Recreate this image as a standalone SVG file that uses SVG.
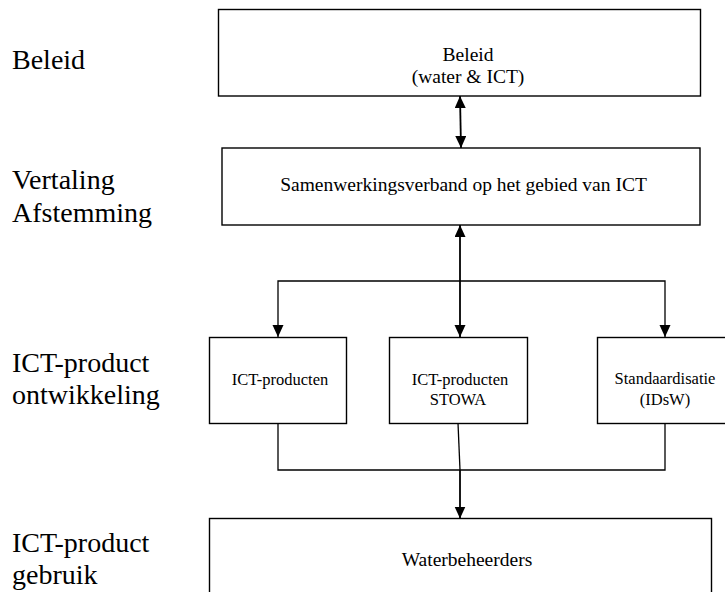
<svg xmlns="http://www.w3.org/2000/svg" width="725" height="592" viewBox="0 0 725 592">
  <style>
    text { font-family: 'Liberation Serif', Tinos, 'Times New Roman', Times, 'DejaVu Serif', serif; fill: #000000; }
    .box { fill: #ffffff; stroke: #000000; stroke-width: 1.4; }
    .lvl { font-size: 28px; }
    .big { font-size: 19.5px; text-anchor: middle; }
    .sm { font-size: 16.5px; text-anchor: middle; }
    .wire { fill: none; stroke: #000000; stroke-width: 1.3; }
    .arrow { fill: none; stroke: #000000; stroke-width: 1.8; }
  </style>
  <defs>
    <marker id="head" markerUnits="userSpaceOnUse" markerWidth="12" markerHeight="12" refX="12" refY="5.5" orient="auto-start-reverse">
      <path d="M0,0 L12,5.5 L0,11 Z" fill="#000000"/>
    </marker>
  </defs>

  <rect width="725" height="592" fill="#ffffff"/>

  <!-- level labels on the left -->
  <g id="levels">
    <text class="lvl" x="12" y="69">Beleid</text>
    <text class="lvl" x="12" y="189">Vertaling</text>
    <text class="lvl" x="12" y="222">Afstemming</text>
    <text class="lvl" x="12" y="372">ICT-product</text>
    <text class="lvl" x="12" y="404">ontwikkeling</text>
    <text class="lvl" x="12" y="552">ICT-product</text>
    <text class="lvl" x="12" y="584">gebruik</text>
  </g>

  <g id="connectors">
    <path class="arrow" d="M460,96 L461,148" marker-start="url(#head)" marker-end="url(#head)"/>
    <path class="arrow" d="M460,225 V337" marker-start="url(#head)" marker-end="url(#head)"/>
    <path class="wire" d="M460,281 H278 V337" marker-end="url(#head)"/>
    <path class="wire" d="M460,281 H665 V337" marker-end="url(#head)"/>
    <path class="wire" d="M278,423 V470 H665 V423"/>
    <path class="wire" d="M458,423 L460,470"/>
    <path class="arrow" d="M460,470 V518.5" marker-end="url(#head)"/>
  </g>

  <g id="beleid">
    <rect class="box" x="218.5" y="9.5" width="482" height="86.5"/>
    <text class="big" x="468" y="61">Beleid</text>
    <text class="big" x="468" y="83">(water &amp; ICT)</text>
  </g>

  <g id="samenwerkingsverband">
    <rect class="box" x="222" y="148" width="478" height="77"/>
    <text class="big" x="463.5" y="191">Samenwerkingsverband op het gebied van ICT</text>
  </g>

  <g id="ict-producten">
    <rect class="box" x="209.5" y="337.5" width="137" height="86"/>
    <text class="sm" x="280" y="385">ICT-producten</text>
  </g>

  <g id="ict-producten-stowa">
    <rect class="box" x="389.5" y="337.5" width="138" height="86"/>
    <text class="sm" x="460" y="385">ICT-producten</text>
    <text class="sm" x="458" y="405">STOWA</text>
  </g>

  <g id="standaardisatie">
    <rect class="box" x="597.5" y="337.5" width="138" height="86"/>
    <text class="sm" x="665" y="384">Standaardisatie</text>
    <text class="sm" x="665" y="405">(IDsW)</text>
  </g>

  <g id="waterbeheerders">
    <rect class="box" x="209.5" y="518.5" width="502" height="90"/>
    <text class="big" x="467" y="566">Waterbeheerders</text>
  </g>
</svg>
